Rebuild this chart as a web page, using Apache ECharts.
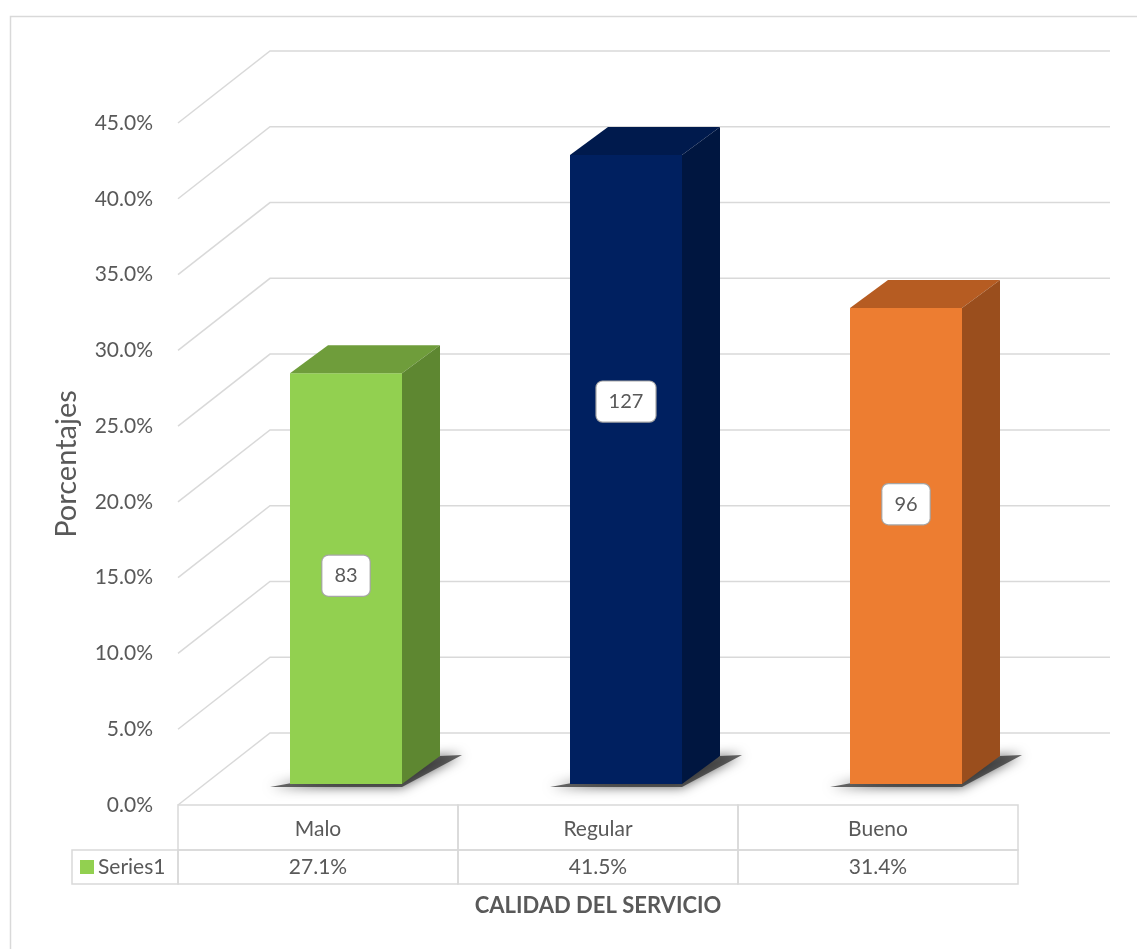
<!DOCTYPE html>
<html>
<head>
<meta charset="utf-8">
<script src="https://cdn.jsdelivr.net/npm/echarts@6/dist/echarts.min.js"></script>
<style>html,body{margin:0;padding:0;background:#fff}#c{width:1137px;height:949px}</style>
</head>
<body>
<div id="c"></div>
<script>
var categories = ['Malo', 'Regular', 'Bueno'];
var percentages = [27.1, 41.5, 31.4];
var counts = [83, 127, 96];
var seriesName = 'Series1';
var tickValues = [0, 5, 10, 15, 20, 25, 30, 35, 40, 45];
var xTitle = 'CALIDAD DEL SERVICIO';
var yTitle = 'Porcentajes';

var FONT = 'Lato, "Open Sans", sans-serif';
var TXT = '#595959';
var GRID_C = '#d9d9d9';
var DX = 92, DY = -72;       // floor depth
var BX = 28, BY = -21;       // bar front offset inside floor
var BDX = 38, BDY = -28;     // bar depth
var LABEL_FRAC = [0.507, 0.608, 0.588]; // label height along bar front (layout)
var faces = [
  {front: '#92d050', top: '#6f9d3b', side: '#5e8731'},
  {front: '#002060', top: '#001a4d', side: '#001640'},
  {front: '#ed7d31', top: '#b65c22', side: '#9a4e1d'}
];

var chart = echarts.init(document.getElementById('c'), null, {renderer: 'canvas'});

function wallItem(params, api) {
  var cs = params.coordSys;
  var v = api.value(0);
  var y = api.coord([0, v])[1];
  var x0 = cs.x;
  var x1 = cs.x + cs.width + DX;
  return {
    type: 'polyline',
    shape: {points: [[x0, y], [x0 + DX, y + DY], [x1, y + DY]]},
    style: {stroke: GRID_C, lineWidth: 1.5, fill: null}
  };
}

function barItem(params, api) {
  var i = api.value(0), v = api.value(1);
  var base = api.coord([i, 0]);
  var top = api.coord([i, v]);
  var bw = api.size([1, 0])[0] * 0.4;
  var xl = base[0] - bw / 2 + BX, xr = base[0] + bw / 2 + BX;
  var yb = base[1] + BY, yt = top[1] + BY;
  var c = faces[i];
  return {
    type: 'group',
    children: [
      {type: 'polygon', shape: {points: [[xl - 20, yb + 3], [xr, yb + 3], [xr + BDX + 22, yb + BDY - 1], [xr + BDX, yb + BDY]]},
        style: {fill: 'rgba(40,40,40,0.7)', shadowBlur: 12, shadowColor: 'rgba(0,0,0,0.9)'}},
      {type: 'rect', shape: {x: xl, y: yt, width: xr - xl, height: yb - yt}, style: {fill: c.front}},
      {type: 'polygon', shape: {points: [[xl, yt], [xl + BDX, yt + BDY], [xr + BDX, yt + BDY], [xr, yt]]}, style: {fill: c.top}},
      {type: 'polygon', shape: {points: [[xr, yt], [xr + BDX, yt + BDY], [xr + BDX, yb + BDY], [xr, yb]]}, style: {fill: c.side}},
      {type: 'text', style: {
        text: String(counts[i]), x: (xl + xr) / 2, y: yb - (yb - yt) * LABEL_FRAC[i],
        align: 'center', verticalAlign: 'middle',
        fill: TXT, font: '20px ' + FONT,
        backgroundColor: '#ffffff', borderColor: '#a6a6a6', borderWidth: 1.2, borderRadius: 6,
        padding: [11, 12, 9, 12]
      }}
    ]
  };
}

function tableItem(params, api) {
  var cs = params.coordSys;
  var i = api.value(0);
  var cx = api.coord([i, 0])[0];
  var cw = api.size([1, 0])[0];
  var y0 = cs.y + cs.height;
  var h1 = 45, h2 = 34;
  var x = cx - cw / 2;
  var st = {stroke: GRID_C, lineWidth: 1.5, fill: 'rgba(0,0,0,0)'};
  var children = [
    {type: 'rect', shape: {x: x, y: y0, width: cw, height: h1}, style: st},
    {type: 'rect', shape: {x: x, y: y0 + h1, width: cw, height: h2}, style: st},
    {type: 'text', style: {text: categories[i], x: cx, y: y0 + h1 / 2 + 2, align: 'center', verticalAlign: 'middle', fill: TXT, font: '21px ' + FONT}},
    {type: 'text', style: {text: percentages[i].toFixed(1) + '%', x: cx, y: y0 + h1 + h2 / 2, align: 'center', verticalAlign: 'middle', fill: TXT, font: '21px ' + FONT}}
  ];
  if (i === 0) {
    children.push(
      {type: 'rect', shape: {x: x - 106, y: y0 + h1, width: 106, height: h2}, style: st},
      {type: 'rect', shape: {x: x - 98, y: y0 + h1 + 10, width: 14, height: 14}, style: {fill: faces[0].front}},
      {type: 'text', style: {text: seriesName, x: x - 80, y: y0 + h1 + h2 / 2, align: 'left', verticalAlign: 'middle', fill: TXT, font: '21px ' + FONT}}
    );
  }
  return {type: 'group', children: children};
}

chart.setOption({
  animation: false,
  backgroundColor: '#ffffff',
  graphic: [{type: 'rect', left: 8, top: 14, shape: {width: 1160, height: 960}, style: {fill: null, stroke: '#d9d9d9', lineWidth: 1.5}, z: -10}],
  grid: {left: 178, right: 119, top: 123, bottom: 144, containLabel: false},
  xAxis: {
    type: 'category', data: categories,
    axisLine: {show: false}, axisTick: {show: false}, axisLabel: {show: false}, splitLine: {show: false},
    name: xTitle, nameLocation: 'middle', nameGap: 90,
    nameTextStyle: {color: TXT, fontFamily: FONT, fontSize: 22, fontWeight: 'bold'}
  },
  yAxis: {
    type: 'value', min: 0, max: 45, interval: 5,
    axisLine: {show: false}, axisTick: {show: false}, splitLine: {show: false},
    axisLabel: {color: TXT, fontFamily: FONT, fontSize: 21, margin: 25, formatter: function (v) { return v.toFixed(1) + '%'; }},
    name: yTitle, nameLocation: 'middle', nameGap: 97, nameRotate: 90,
    nameTextStyle: {color: TXT, fontFamily: FONT, fontSize: 29}
  },
  series: [
    {type: 'custom', name: 'wall', renderItem: wallItem, data: tickValues.map(function (v) { return [v]; }), encode: {y: 0}, silent: true, z: 1},
    {type: 'custom', name: seriesName, renderItem: barItem, data: percentages.map(function (v, i) { return [i, v]; }), encode: {x: 0, y: 1}, z: 2, itemStyle: {color: faces[0].front}},
    {type: 'custom', name: 'table', renderItem: tableItem, data: categories.map(function (c, i) { return [i]; }), encode: {x: 0}, silent: true, z: 3}
  ]
});
</script>
</body>
</html>
